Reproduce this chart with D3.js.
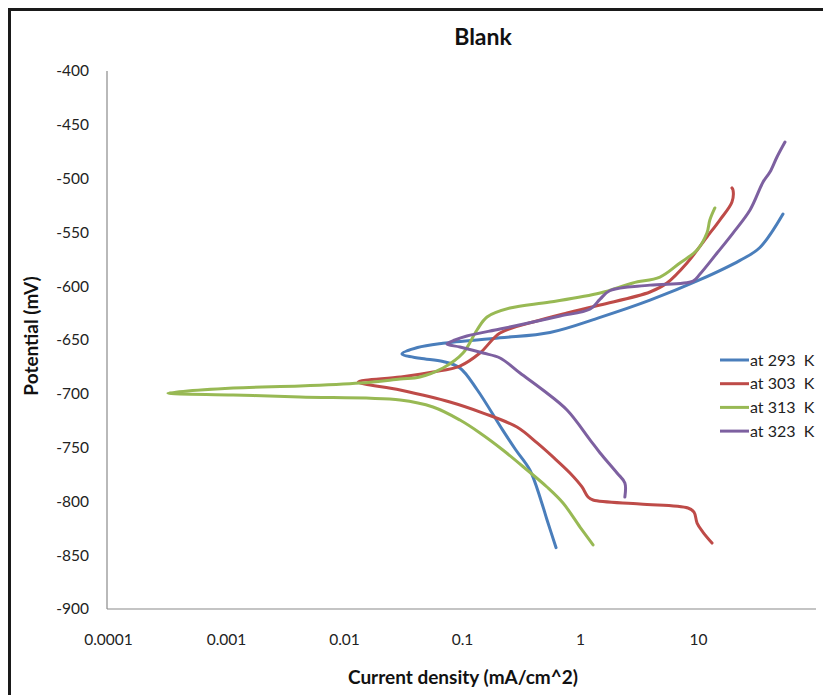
<!DOCTYPE html>
<html>
<head>
<meta charset="utf-8">
<script src="https://cdn.jsdelivr.net/npm/d3@7"></script>
<style>
  html, body { margin: 0; padding: 0; background: #fff; }
  svg text { font-family: Lato, "Open Sans", sans-serif; }
</style>
</head>
<body>
<svg id="chart" width="823" height="695"></svg>
<script>
// ---- Data (current density in mA/cm^2, potential in mV) ----
const seriesNames = ["at 293  K", "at 303  K", "at 313  K", "at 323  K"];
const seriesColors = ["#4A7EBB", "#BE4B48", "#98B954", "#7D60A0"];

const current293 = [0.627, 0.525, 0.47, 0.377, 0.285, 0.222, 0.134, 0.096, 0.069, 0.044, 0.031, 0.042, 0.069, 0.21, 0.557, 1.48, 3.92, 10.4, 22.7, 33.5, 52.5];
const potential293 = [-843, -817, -800, -771, -752, -734, -696, -676, -670, -667, -663, -657, -653, -648, -643, -629, -613, -594, -576, -564, -533];

const current303 = [13.15, 11.0, 9.82, 9.25, 8.22, 3.22, 1.29, 1.17, 1.04, 0.822, 0.590, 0.433, 0.292, 0.151, 0.079, 0.0299, 0.0132, 0.0299, 0.0568, 0.096, 0.142, 0.21, 0.40, 0.776, 1.48, 3.92, 5.46, 8.07, 11.9, 15.3, 19.4, 19.8, 19.4];
const potential303 = [-838.7, -828.5, -820.1, -809.9, -806.1, -802.4, -798.7, -795.9, -786.6, -773.6, -758.7, -745.7, -730.9, -717.9, -707.6, -696.5, -689.0, -684.4, -679.8, -674.2, -662.1, -643.5, -633.3, -624.9, -617.5, -605.4, -597.0, -578.4, -554.3, -538.5, -521.8, -510.6, -508.7];

const current313 = [1.29, 1.0, 0.718, 0.525, 0.356, 0.222, 0.142, 0.096, 0.0568, 0.0299, 0.00424, 0.00115, 0.000322, 0.00115, 0.00424, 0.0137, 0.0299, 0.044, 0.069, 0.102, 0.134, 0.163, 0.255, 0.557, 1.48, 2.81, 4.76, 7.03, 9.82, 11.9, 12.6, 13.9];
const potential313 = [-840.5, -823.8, -801.5, -786.6, -770.8, -752.2, -736.4, -724.4, -712.3, -705.8, -703.0, -701.1, -699.3, -694.6, -692.8, -690.0, -686.3, -684.4, -676.0, -662.1, -640.7, -628.6, -620.3, -614.7, -606.3, -597.0, -591.5, -578.4, -566.4, -550.6, -538.5, -527.3];

const current323 = [2.40, 2.40, 2.06, 1.48, 1.22, 0.776, 0.485, 0.310, 0.21, 0.151, 0.096, 0.0746, 0.0873, 0.110, 0.21, 0.40, 0.678, 1.22, 1.48, 1.80, 3.92, 9.08, 10.4, 14.5, 19.8, 27.6, 35.6, 40.7, 46.7, 54.6];
const potential323 = [-795.9, -782.9, -773.6, -755.0, -743.0, -715.1, -696.5, -680.7, -666.7, -662.1, -656.5, -653.7, -650.0, -646.3, -639.8, -633.3, -627.7, -621.2, -612.0, -604.0, -599.0, -595.2, -588.7, -569.2, -550.6, -529.2, -503.2, -493.9, -479.9, -466.0];

const xTickValues = [0.0001, 0.001, 0.01, 0.1, 1, 10];
const xTickLabels = ["0.0001", "0.001", "0.01", "0.1", "1", "10"];
const yTickValues = [-400, -450, -500, -550, -600, -650, -700, -750, -800, -850, -900];
const yTickLabels = ["-400", "-450", "-500", "-550", "-600", "-650", "-700", "-750", "-800", "-850", "-900"];

const titleText = "Blank";
const xTitle = "Current density (mA/cm^2)";
const yTitle = "Potential (mV)";

// ---- Layout ----
const svg = d3.select("#chart");
const plot = { left: 107, right: 816, top: 71, bottom: 609 };

const x = d3.scaleLog().domain([0.0001, 100]).range([plot.left + 1, plot.right]);
const y = d3.scaleLinear().domain([-900, -400]).range([plot.bottom, plot.top]);

// outer frame
svg.append("path")
  .attr("d", `M9.5,${695 + 5} V9.5 H${823 + 5}`)
  .attr("fill", "none").attr("stroke", "#1a1a1a").attr("stroke-width", 3);

// title
svg.append("text").attr("x", 483).attr("y", 45)
  .attr("text-anchor", "middle").attr("font-size", 23).attr("font-weight", "bold")
  .attr("fill", "#111").text(titleText);

// axes
const xAxis = d3.axisBottom(x).tickValues(xTickValues)
  .tickFormat((d, i) => xTickLabels[i]).tickSize(0).tickPadding(25);
const gx = svg.append("g").attr("transform", `translate(0,${plot.bottom})`).call(xAxis);
gx.select(".domain").attr("stroke", "#8a8a8a").attr("stroke-width", 1.2)
  .attr("d", `M${plot.left},0H${plot.right}`);
gx.selectAll("text").attr("font-size", 15.5).attr("fill", "#222")
  .style("font-family", "Lato, sans-serif");

const yAxis = d3.axisLeft(y).tickValues(yTickValues)
  .tickFormat((d, i) => yTickLabels[i]).tickSize(0).tickPadding(18);
const gy = svg.append("g").attr("transform", `translate(${plot.left},0)`).call(yAxis);
gy.select(".domain").attr("stroke", "#8a8a8a").attr("stroke-width", 1.2)
  .attr("d", `M0,${plot.top}V${plot.bottom}`);
gy.selectAll("text").attr("font-size", 15.5).attr("fill", "#222")
  .style("font-family", "Lato, sans-serif");

// axis titles
svg.append("text").attr("x", 463).attr("y", 684)
  .attr("text-anchor", "middle").attr("font-size", 19).attr("font-weight", "bold")
  .attr("fill", "#111").text(xTitle);
svg.append("text")
  .attr("transform", `translate(38,${336}) rotate(-90)`)
  .attr("text-anchor", "middle").attr("font-size", 19).attr("font-weight", "bold")
  .attr("fill", "#111").text(yTitle);

// series
const series = [
  { name: seriesNames[0], color: seriesColors[0], cur: current293, pot: potential293 },
  { name: seriesNames[1], color: seriesColors[1], cur: current303, pot: potential303 },
  { name: seriesNames[2], color: seriesColors[2], cur: current313, pot: potential313 },
  { name: seriesNames[3], color: seriesColors[3], cur: current323, pot: potential323 }
];

const line = d3.line()
  .x(d => x(d[0])).y(d => y(d[1]))
  .curve(d3.curveCatmullRom.alpha(0.5));

svg.append("g").selectAll("path").data(series).join("path")
  .attr("d", s => line(s.cur.map((c, i) => [c, s.pot[i]])))
  .attr("fill", "none").attr("stroke", s => s.color)
  .attr("stroke-width", 3).attr("stroke-linejoin", "round").attr("stroke-linecap", "round");

// legend
const lg = svg.append("g");
series.forEach((s, i) => {
  const ly = 360 + i * 23.7;
  lg.append("line").attr("x1", 720).attr("x2", 749).attr("y1", ly).attr("y2", ly)
    .attr("stroke", s.color).attr("stroke-width", 3);
  lg.append("text").attr("x", 750).attr("y", ly + 5.5)
    .attr("font-size", 16).attr("fill", "#222").style("white-space", "pre")
    .text(s.name);
});
</script>
</body>
</html>
